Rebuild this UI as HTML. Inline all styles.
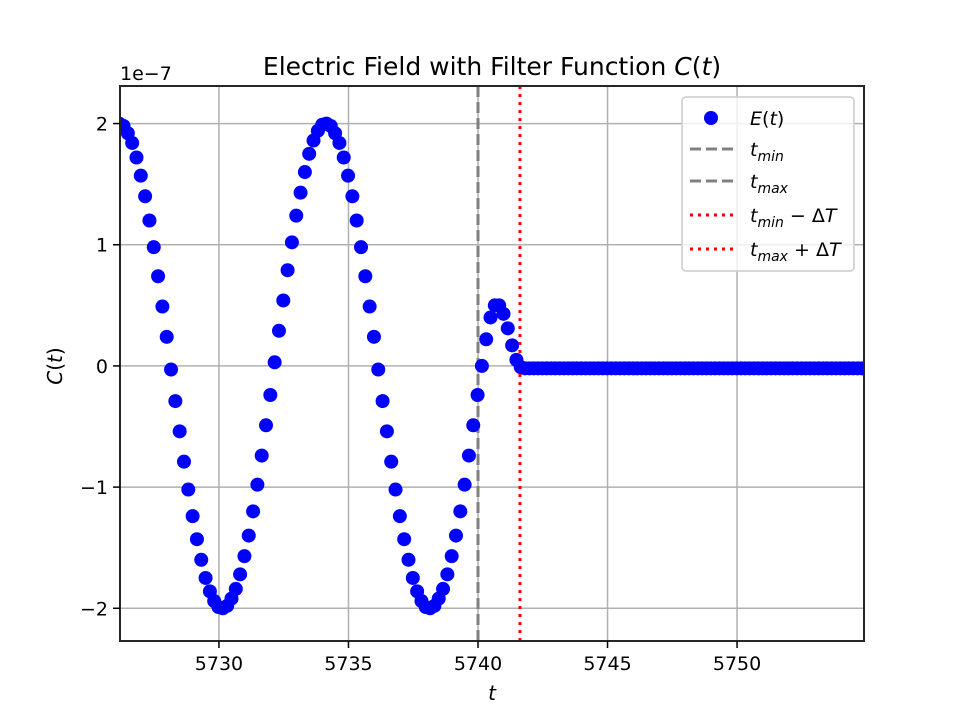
<!DOCTYPE html>
<html><head><meta charset="utf-8">
<style>
html,body{margin:0;padding:0;background:#fff;}
svg{display:block;font-family:"DejaVu Sans","Liberation Sans",sans-serif;}
</style></head>
<body>
<svg id="chart" width="960" height="720" viewBox="0 0 960 720">
<rect width="960" height="720" fill="#fff"/>
<g id="grid"></g>
<g id="vlines"></g>
<g id="points"></g>
<rect x="120" y="86" width="744" height="555" fill="none" stroke="#262626" stroke-width="2"/>
<g id="ticks"></g>
<text x="492" y="75" font-size="25" text-anchor="middle" fill="#000">Electric Field with Filter Function <tspan font-style="italic">C</tspan>(<tspan font-style="italic">t</tspan>)</text>
<text x="120" y="80" font-size="19" fill="#000">1e−7</text>
<text x="492" y="700" font-size="20" font-style="italic" text-anchor="middle" fill="#000">t</text>
<text transform="translate(62,366) rotate(-90)" font-size="20" text-anchor="middle" fill="#000"><tspan font-style="italic">C</tspan>(<tspan font-style="italic">t</tspan>)</text>
<g id="legend">
<rect x="682" y="97" width="172" height="174" rx="4" fill="#fff" fill-opacity="0.8" stroke="#ccc" stroke-width="1.5"/>
<g><circle cx="711" cy="118" r="7" fill="#0000ff"/><text x="750" y="125" font-size="19"><tspan font-style="italic">E</tspan>(<tspan font-style="italic">t</tspan>)</text></g>
<g><line x1="690" y1="149" x2="733" y2="149" stroke="#808080" stroke-width="3" stroke-dasharray="11,5"/><text x="750" y="156" font-size="19" font-style="italic">t<tspan font-size="14" dy="5">min</tspan></text></g>
<g><line x1="690" y1="181" x2="733" y2="181" stroke="#808080" stroke-width="3" stroke-dasharray="11,5"/><text x="750" y="188" font-size="19" font-style="italic">t<tspan font-size="14" dy="5">max</tspan></text></g>
<g><line x1="690" y1="215" x2="733" y2="215" stroke="#ff0000" stroke-width="3" stroke-dasharray="3,5"/><text x="750" y="222" font-size="19"><tspan font-style="italic">t</tspan><tspan font-size="14" dy="5" font-style="italic">min</tspan><tspan dy="-5"> − Δ</tspan><tspan font-style="italic">T</tspan></text></g>
<g><line x1="690" y1="249" x2="733" y2="249" stroke="#ff0000" stroke-width="3" stroke-dasharray="3,5"/><text x="750" y="256" font-size="19"><tspan font-style="italic">t</tspan><tspan font-size="14" dy="5" font-style="italic">max</tspan><tspan dy="-5"> + Δ</tspan><tspan font-style="italic">T</tspan></text></g>
</g>
</svg>
<script>
const xTicks = [5730, 5735, 5740, 5745, 5750];
const yTicks = [-2, -1, 0, 1, 2];
const yTickLabels = ["−2", "−1", "0", "1", "2"];
const tStart = 5726.15;
const tStep = 1/6;
const eValues = [
2.00,1.98,1.92,1.84,1.72,1.57,1.40,1.20,0.98,0.74,0.49,0.24,-0.03,-0.29,-0.54,-0.79,-1.02,-1.24,-1.43,-1.60,-1.75,-1.86,-1.94,-1.99,
-2.00,-1.98,-1.92,-1.84,-1.72,-1.57,-1.40,-1.20,-0.98,-0.74,-0.49,-0.24,0.03,0.29,0.54,0.79,1.02,1.24,1.43,1.60,1.75,1.86,1.94,1.99,
2.00,1.98,1.92,1.84,1.72,1.57,1.40,1.20,0.98,0.74,0.49,0.24,-0.03,-0.29,-0.54,-0.79,-1.02,-1.24,-1.43,-1.60,-1.75,-1.86,-1.94,-1.99,
-2.00,-1.98,-1.92,-1.84,-1.72,-1.57,-1.40,-1.20,-0.98,-0.74,-0.49,-0.24,
0.00,0.22,0.40,0.50,0.50,0.43,0.31,0.17,0.05,-0.01,
-0.02,-0.02,-0.02,-0.02,-0.02,-0.02,-0.02,-0.02,-0.02,-0.02,-0.02,-0.02,-0.02,-0.02,-0.02,-0.02,-0.02,-0.02,-0.02,-0.02,
-0.02,-0.02,-0.02,-0.02,-0.02,-0.02,-0.02,-0.02,-0.02,-0.02,-0.02,-0.02,-0.02,-0.02,-0.02,-0.02,-0.02,-0.02,-0.02,-0.02,
-0.02,-0.02,-0.02,-0.02,-0.02,-0.02,-0.02,-0.02,-0.02,-0.02,-0.02,-0.02,-0.02,-0.02,-0.02,-0.02,-0.02,-0.02,-0.02,-0.02,
-0.02,-0.02,-0.02,-0.02,-0.02,-0.02,-0.02,-0.02,-0.02,-0.02,-0.02,-0.02,-0.02,-0.02,-0.02,-0.02,-0.02,-0.02,-0.02
];
const tMin = 5740.0;
const tMax = 5740.0;
const tMaxPlusDT = 5741.62;

const X0 = 120, X1 = 864, Y0 = 86, Y1 = 641;
const xMin = 5726.18, xMax = 5754.9, yMin = -2.27, yMax = 2.31;
const NS = "http://www.w3.org/2000/svg";
function xs(v){ return X0 + (v - xMin) / (xMax - xMin) * (X1 - X0); }
function ys(v){ return Y1 - (v - yMin) / (yMax - yMin) * (Y1 - Y0); }
function mk(tag, attrs, parent){ const e = document.createElementNS(NS, tag); for (const k in attrs) e.setAttribute(k, attrs[k]); parent.appendChild(e); return e; }

const grid = document.getElementById('grid');
const ticks = document.getElementById('ticks');
xTicks.forEach(v => {
  const x = xs(v);
  const g = mk('line', {x1:x, x2:x, y1:Y0, y2:Y1, stroke:'#b0b0b0', 'stroke-width':1.5}, grid);
  
  
  const t = mk('line', {x1:x, x2:x, y1:Y1, y2:Y1+7, stroke:'#000', 'stroke-width':1.5}, ticks);
  
  
  const l = mk('text', {x:x, y:Y1+29, 'font-size':19, 'text-anchor':'middle', fill:'#000'}, ticks);
  l.textContent = String(v);
  
  
});
yTicks.forEach((v, i) => {
  const y = ys(v);
  const g = mk('line', {x1:X0, x2:X1, y1:y, y2:y, stroke:'#b0b0b0', 'stroke-width':1.5}, grid);
  
  
  const t = mk('line', {x1:X0-7, x2:X0, y1:y, y2:y, stroke:'#000', 'stroke-width':1.5}, ticks);
  
  
  const l = mk('text', {x:X0-12, y:y+7, 'font-size':19, 'text-anchor':'end', fill:'#000'}, ticks);
  l.textContent = yTickLabels[i];
  
  
});

const vl = document.getElementById('vlines');
[[tMin,'#808080','11,5','tmin-line'],[tMax,'#808080','11,5','tmax-line'],[tMaxPlusDT,'#ff0000','3,5','tmax-plus-dt-line']].forEach(d => {
  const x = xs(d[0]);
  const ln = mk('line', {x1:x, x2:x, y1:Y0, y2:Y1, stroke:d[1], 'stroke-width':3, 'stroke-dasharray':d[2]}, vl);
  
  
});

const pts = document.getElementById('points');
const clip = mk('clipPath', {id:'plotclip'}, document.getElementById('chart'));
mk('rect', {x:X0, y:Y0, width:X1-X0, height:Y1-Y0}, clip);
pts.setAttribute('clip-path', 'url(#plotclip)');
eValues.forEach((v, i) => {
  const t = tStart + i * tStep;
  const c = mk('circle', {cx:xs(t), cy:ys(v), r:7, fill:'#0000ff'}, pts);
  
  
});
</script>
</body></html>
